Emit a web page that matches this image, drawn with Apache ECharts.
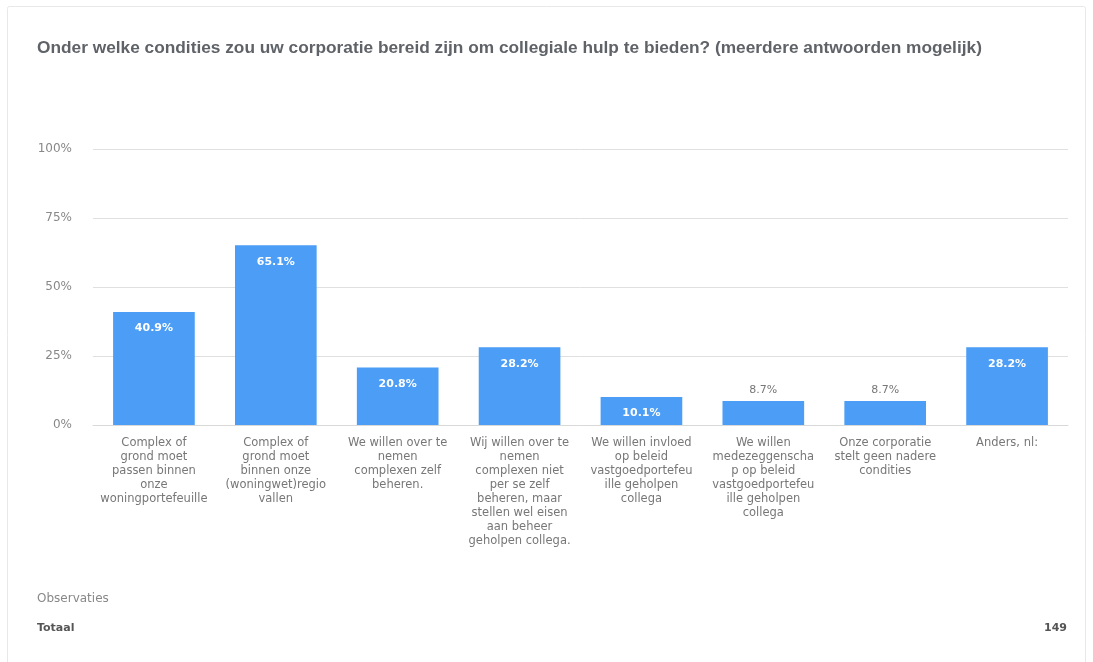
<!DOCTYPE html>
<html>
<head>
<meta charset="utf-8">
<script src="https://cdn.jsdelivr.net/npm/echarts@6/dist/echarts.min.js"></script>
<style>
  html, body { margin: 0; padding: 0; background: #fff; }
  #chart { width: 1093px; height: 662px; }
</style>
</head>
<body>
<div id="chart"></div>
<script>
// categories (wrapped like the original)
const categories = [
  "Complex of\ngrond moet\npassen binnen\nonze\nwoningportefeuille",
  "Complex of\ngrond moet\nbinnen onze\n(woningwet)regio\nvallen",
  "We willen over te\nnemen\ncomplexen zelf\nbeheren.",
  "Wij willen over te\nnemen\ncomplexen niet\nper se zelf\nbeheren, maar\nstellen wel eisen\naan beheer\ngeholpen collega.",
  "We willen invloed\nop beleid\nvastgoedportefeu\nille geholpen\ncollega",
  "We willen\nmedezeggenscha\np op beleid\nvastgoedportefeu\nille geholpen\ncollega",
  "Onze corporatie\nstelt geen nadere\ncondities",
  "Anders, nl:"
];
const percentages = [40.9, 65.1, 20.8, 28.2, 10.1, 8.7, 8.7, 28.2];
const yTicks = [0, 25, 50, 75, 100];
const totalObservations = 149;

const baseFont = "DejaVu Sans, Verdana, sans-serif";

const chart = echarts.init(document.getElementById("chart"));

const seriesData = percentages.map(v => {
  // short bars get their label above the bar
  if (v < 10) {
    return {
      value: v,
      label: { position: "top", distance: 5, color: "#777", fontWeight: "normal" }
    };
  }
  return { value: v };
});

const option = {
  animation: false,
  textStyle: { fontFamily: baseFont },
  title: {
    text: "Onder welke condities zou uw corporatie bereid zijn om collegiale hulp te bieden? (meerdere antwoorden mogelijk)",
    left: 32,
    top: 35,
    textStyle: {
      fontSize: 17.3,
      fontWeight: "bold",
      color: "#5f6368",
      fontFamily: "Liberation Sans, Arial, sans-serif"
    }
  },
  grid: {
    left: 93,
    right: 25,
    top: 149,
    bottom: 237,
    containLabel: false
  },
  xAxis: {
    type: "category",
    data: categories,
    axisLine: { lineStyle: { color: "#d9d9d9" } },
    axisTick: { show: false },
    axisLabel: {
      interval: 0,
      margin: 11,
      color: "#777",
      fontSize: 11.5,
      lineHeight: 14,
      align: "center"
    }
  },
  yAxis: {
    type: "value",
    min: yTicks[0],
    max: yTicks[yTicks.length - 1],
    interval: 25,
    axisLine: { show: false },
    axisTick: { show: false },
    splitLine: { lineStyle: { color: "#e0e0e0" } },
    axisLabel: {
      margin: 21,
      color: "#888",
      fontSize: 12,
      formatter: "{value}%"
    }
  },
  series: [
    {
      type: "bar",
      data: seriesData,
      barWidth: "67%",
      itemStyle: { color: "#4b9df6" },
      label: {
        show: true,
        position: "insideTop",
        distance: 11,
        color: "#fff",
        fontSize: 11,
        fontWeight: "bold",
        formatter: p => p.value.toFixed(1) + "%"
      }
    }
  ],
  graphic: [
    {
      type: "rect",
      shape: { x: 7.5, y: 6.5, width: 1078, height: 670, r: 2 },
      style: { fill: "none", stroke: "#e8e8e8", lineWidth: 1 },
      silent: true,
      z: -1
    },
    {
      type: "text",
      left: 37,
      top: 593,
      style: { text: "Observaties", fill: "#888", fontSize: 12, fontFamily: baseFont }
    },
    {
      type: "text",
      left: 37,
      top: 623,
      style: { text: "Totaal", fill: "#555", fontSize: 11, fontWeight: "bold", fontFamily: baseFont }
    },
    {
      type: "text",
      right: 26,
      top: 623,
      style: { text: String(totalObservations), fill: "#555", fontSize: 11, fontWeight: "bold", fontFamily: baseFont }
    }
  ]
};

chart.setOption(option);
</script>
</body>
</html>
